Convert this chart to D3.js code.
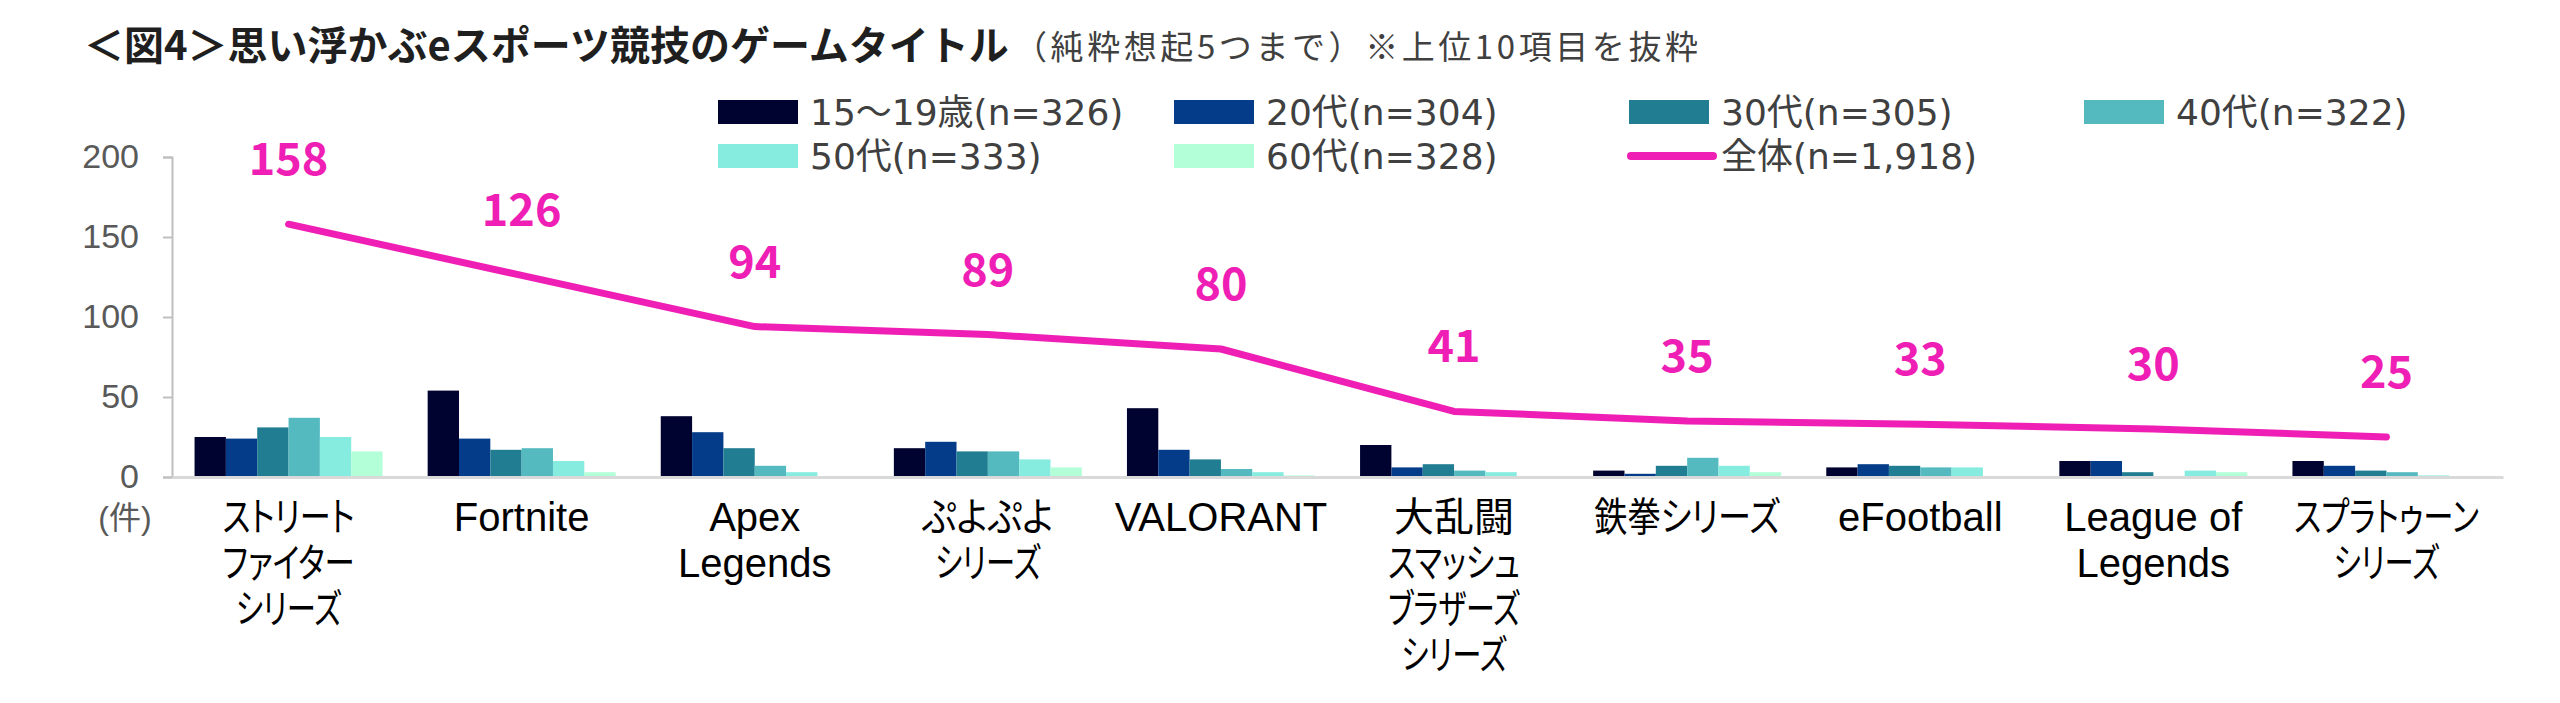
<!DOCTYPE html>
<html>
<head>
<meta charset="utf-8">
<script src="https://cdn.jsdelivr.net/npm/d3@7"></script>
<style>
  html, body { margin: 0; padding: 0; background: #ffffff; }
  svg { display: block; font-family: "Noto Sans CJK JP", "Noto Sans", sans-serif; }
  .kana { font-feature-settings: "palt" 1; }
</style>
</head>
<body>
<svg id="chart" width="2560" height="703"></svg>
<script>
// ---------------- DATA ----------------
const categories = [
  "ストリート\nファイター\nシリーズ",
  "Fortnite",
  "Apex\nLegends",
  "ぷよぷよ\nシリーズ",
  "VALORANT",
  "大乱闘\nスマッシュ\nブラザーズ\nシリーズ",
  "鉄拳シリーズ",
  "eFootball",
  "League of\nLegends",
  "スプラトゥーン\nシリーズ"
];
const seriesNames = ["15～19歳(n=326)", "20代(n=304)", "30代(n=305)", "40代(n=322)", "50代(n=333)", "60代(n=328)"];
const totalName = "全体(n=1,918)";
const age15_19 = [25, 54, 38, 18, 43, 20, 4, 6, 10, 10];
const age20s   = [24, 24, 28, 22, 17, 6, 2, 8, 10, 7];
const age30s   = [31, 17, 18, 16, 11, 8, 7, 7, 3, 4];
const age40s   = [37, 18, 7, 16, 5, 4, 12, 6, 0, 3];
const age50s   = [25, 10, 3, 11, 3, 3, 7, 6, 4, 1];
const age60s   = [16, 3, 0, 6, 1, 0, 3, 0, 3, 0];
const total    = [158, 126, 94, 89, 80, 41, 35, 33, 30, 25];
const yTicks   = [0, 50, 100, 150, 200];
const titleText = "＜図4＞思い浮かぶeスポーツ競技のゲームタイトル";
const subtitleText = "（純粋想起5つまで）※上位10項目を抜粋";
const unitLabel = "(件)";

const seriesValues = [age15_19, age20s, age30s, age40s, age50s, age60s];
const colors = ["#00022f", "#053c89", "#217d91", "#55bac0", "#86ece0", "#b3ffd8"];
const lineColor = "#ef1fb5";

// ---------------- LAYOUT ----------------
const svg = d3.select("#chart");

const x = d3.scaleBand().domain(categories).range([172, 2503]).padding(0);
const xs = d3.scaleBand().domain(seriesNames).range([0, x.bandwidth()]).paddingInner(0).paddingOuter(0.72);
const y = d3.scaleLinear().domain([0, 200]).range([477, 157]);

// Title
svg.append("text")
  .attr("x", 84).attr("y", 60)
  .attr("font-size", 40).attr("font-weight", 700).attr("fill", "#1f1f1f")
  .text(titleText);
svg.append("text")
  .attr("x", 1014).attr("y", 59)
  .attr("font-size", 33).attr("fill", "#404040")
  .attr("textLength", 684).attr("lengthAdjust", "spacing")
  .text(subtitleText);

// Y axis
const yAxis = svg.append("g")
  .attr("transform", "translate(172,0)")
  .call(d3.axisLeft(y).tickValues(yTicks).tickSize(9).tickPadding(24));
yAxis.select(".domain").attr("stroke", "#bfbfbf").attr("stroke-width", 2);
yAxis.selectAll(".tick line").attr("stroke", "#bfbfbf").attr("stroke-width", 2);
yAxis.selectAll(".tick text")
  .attr("font-size", 34).attr("fill", "#595959")
  .attr("font-family", "'Liberation Sans', 'Noto Sans CJK JP', sans-serif");

// Bars
const groups = svg.append("g").selectAll("g")
  .data(categories)
  .join("g")
  .attr("transform", d => `translate(${x(d)},0)`);
groups.selectAll("rect")
  .data((d, i) => seriesNames.map((s, k) => ({ s, k, v: seriesValues[k][i] })))
  .join("rect")
  .attr("x", d => xs(d.s))
  .attr("width", xs.bandwidth())
  .attr("y", d => y(d.v))
  .attr("height", d => y(0) - y(d.v))
  .attr("fill", d => colors[d.k]);

// X axis baseline
const xAxis = svg.append("g")
  .attr("transform", `translate(0,${y(0)})`)
  .call(d3.axisBottom(x).tickSize(0).tickFormat(""));
xAxis.select(".domain").attr("stroke", "#d9d9d9").attr("stroke-width", 3);

// Category labels (multi-line, one text per category); kana set narrow like a UI font
const labelSize = 40;
function narrowWidth(str) {
  let w = 0;
  for (const ch of str) {
    if (/[\u30a0-\u30ff]/.test(ch)) w += 0.66;       // katakana
    else if (/[\u3040-\u309f]/.test(ch)) w += 0.82;  // hiragana
    else if (/[\u4e00-\u9fff]/.test(ch)) w += 1.0;   // kanji
    else w += 0.55;
  }
  return w * labelSize;
}
const labelG = svg.append("g");
categories.forEach(c => {
  const lines = c.split("\n");
  const t = labelG.append("text")
    .attr("text-anchor", "middle")
    .attr("font-family", "'Liberation Sans', 'Noto Sans CJK JP', sans-serif")
    .attr("font-size", labelSize).attr("fill", "#000000");
  lines.forEach((ln, j) => {
    const sp = t.append("tspan")
      .attr("x", x(c) + x.bandwidth() / 2)
      .attr("y", 531 + j * 46)
      .text(ln);
    if (/[\u3040-\u30ff]/.test(ln)) {
      sp.attr("class", "kana")
        .attr("textLength", narrowWidth(ln))
        .attr("lengthAdjust", "spacingAndGlyphs");
    }
  });
});

// Unit label
svg.append("text")
  .attr("x", 125).attr("y", 529)
  .attr("text-anchor", "middle")
  .attr("font-family", "'Liberation Sans', 'Noto Sans CJK JP', sans-serif")
  .attr("font-size", 32).attr("fill", "#595959")
  .text(unitLabel);

// Total line
const line = d3.line()
  .x((d, i) => x(categories[i]) + x.bandwidth() / 2)
  .y(d => y(d));
svg.append("path")
  .datum(total)
  .attr("d", line)
  .attr("fill", "none")
  .attr("stroke", lineColor)
  .attr("stroke-width", 7)
  .attr("stroke-linecap", "round")
  .attr("stroke-linejoin", "round");

// Total labels
svg.append("g").selectAll("text")
  .data(total)
  .join("text")
  .attr("x", (d, i) => x(categories[i]) + x.bandwidth() / 2)
  .attr("y", d => y(d) - 49)
  .attr("text-anchor", "middle")
  .attr("font-size", 45).attr("font-weight", 700)
  .attr("fill", lineColor)
  .text(d => d);

// Legend
const legendItems = seriesNames.map((s, k) => ({ name: s, color: colors[k], type: "rect" }))
  .concat([{ name: totalName, color: lineColor, type: "line" }]);
const colX = [718, 1174, 1629, 2084];
const rowY = [112, 156];
const leg = svg.append("g");
legendItems.forEach((it, i) => {
  const cx = colX[i % 4], cy = rowY[Math.floor(i / 4)];
  if (it.type === "rect") {
    leg.append("rect").attr("x", cx).attr("y", cy - 12).attr("width", 80).attr("height", 24).attr("fill", it.color);
  } else {
    leg.append("line").attr("x1", cx + 2).attr("x2", cx + 84).attr("y1", cy).attr("y2", cy)
      .attr("stroke", it.color).attr("stroke-width", 8).attr("stroke-linecap", "round");
  }
  leg.append("text")
    .attr("x", cx + 92).attr("y", cy + 13)
    .attr("font-size", 36).attr("fill", "#404040")
    .attr("font-family", "'DejaVu Sans', 'Noto Sans CJK JP', sans-serif")
    .text(it.name);
});
</script>
</body>
</html>
